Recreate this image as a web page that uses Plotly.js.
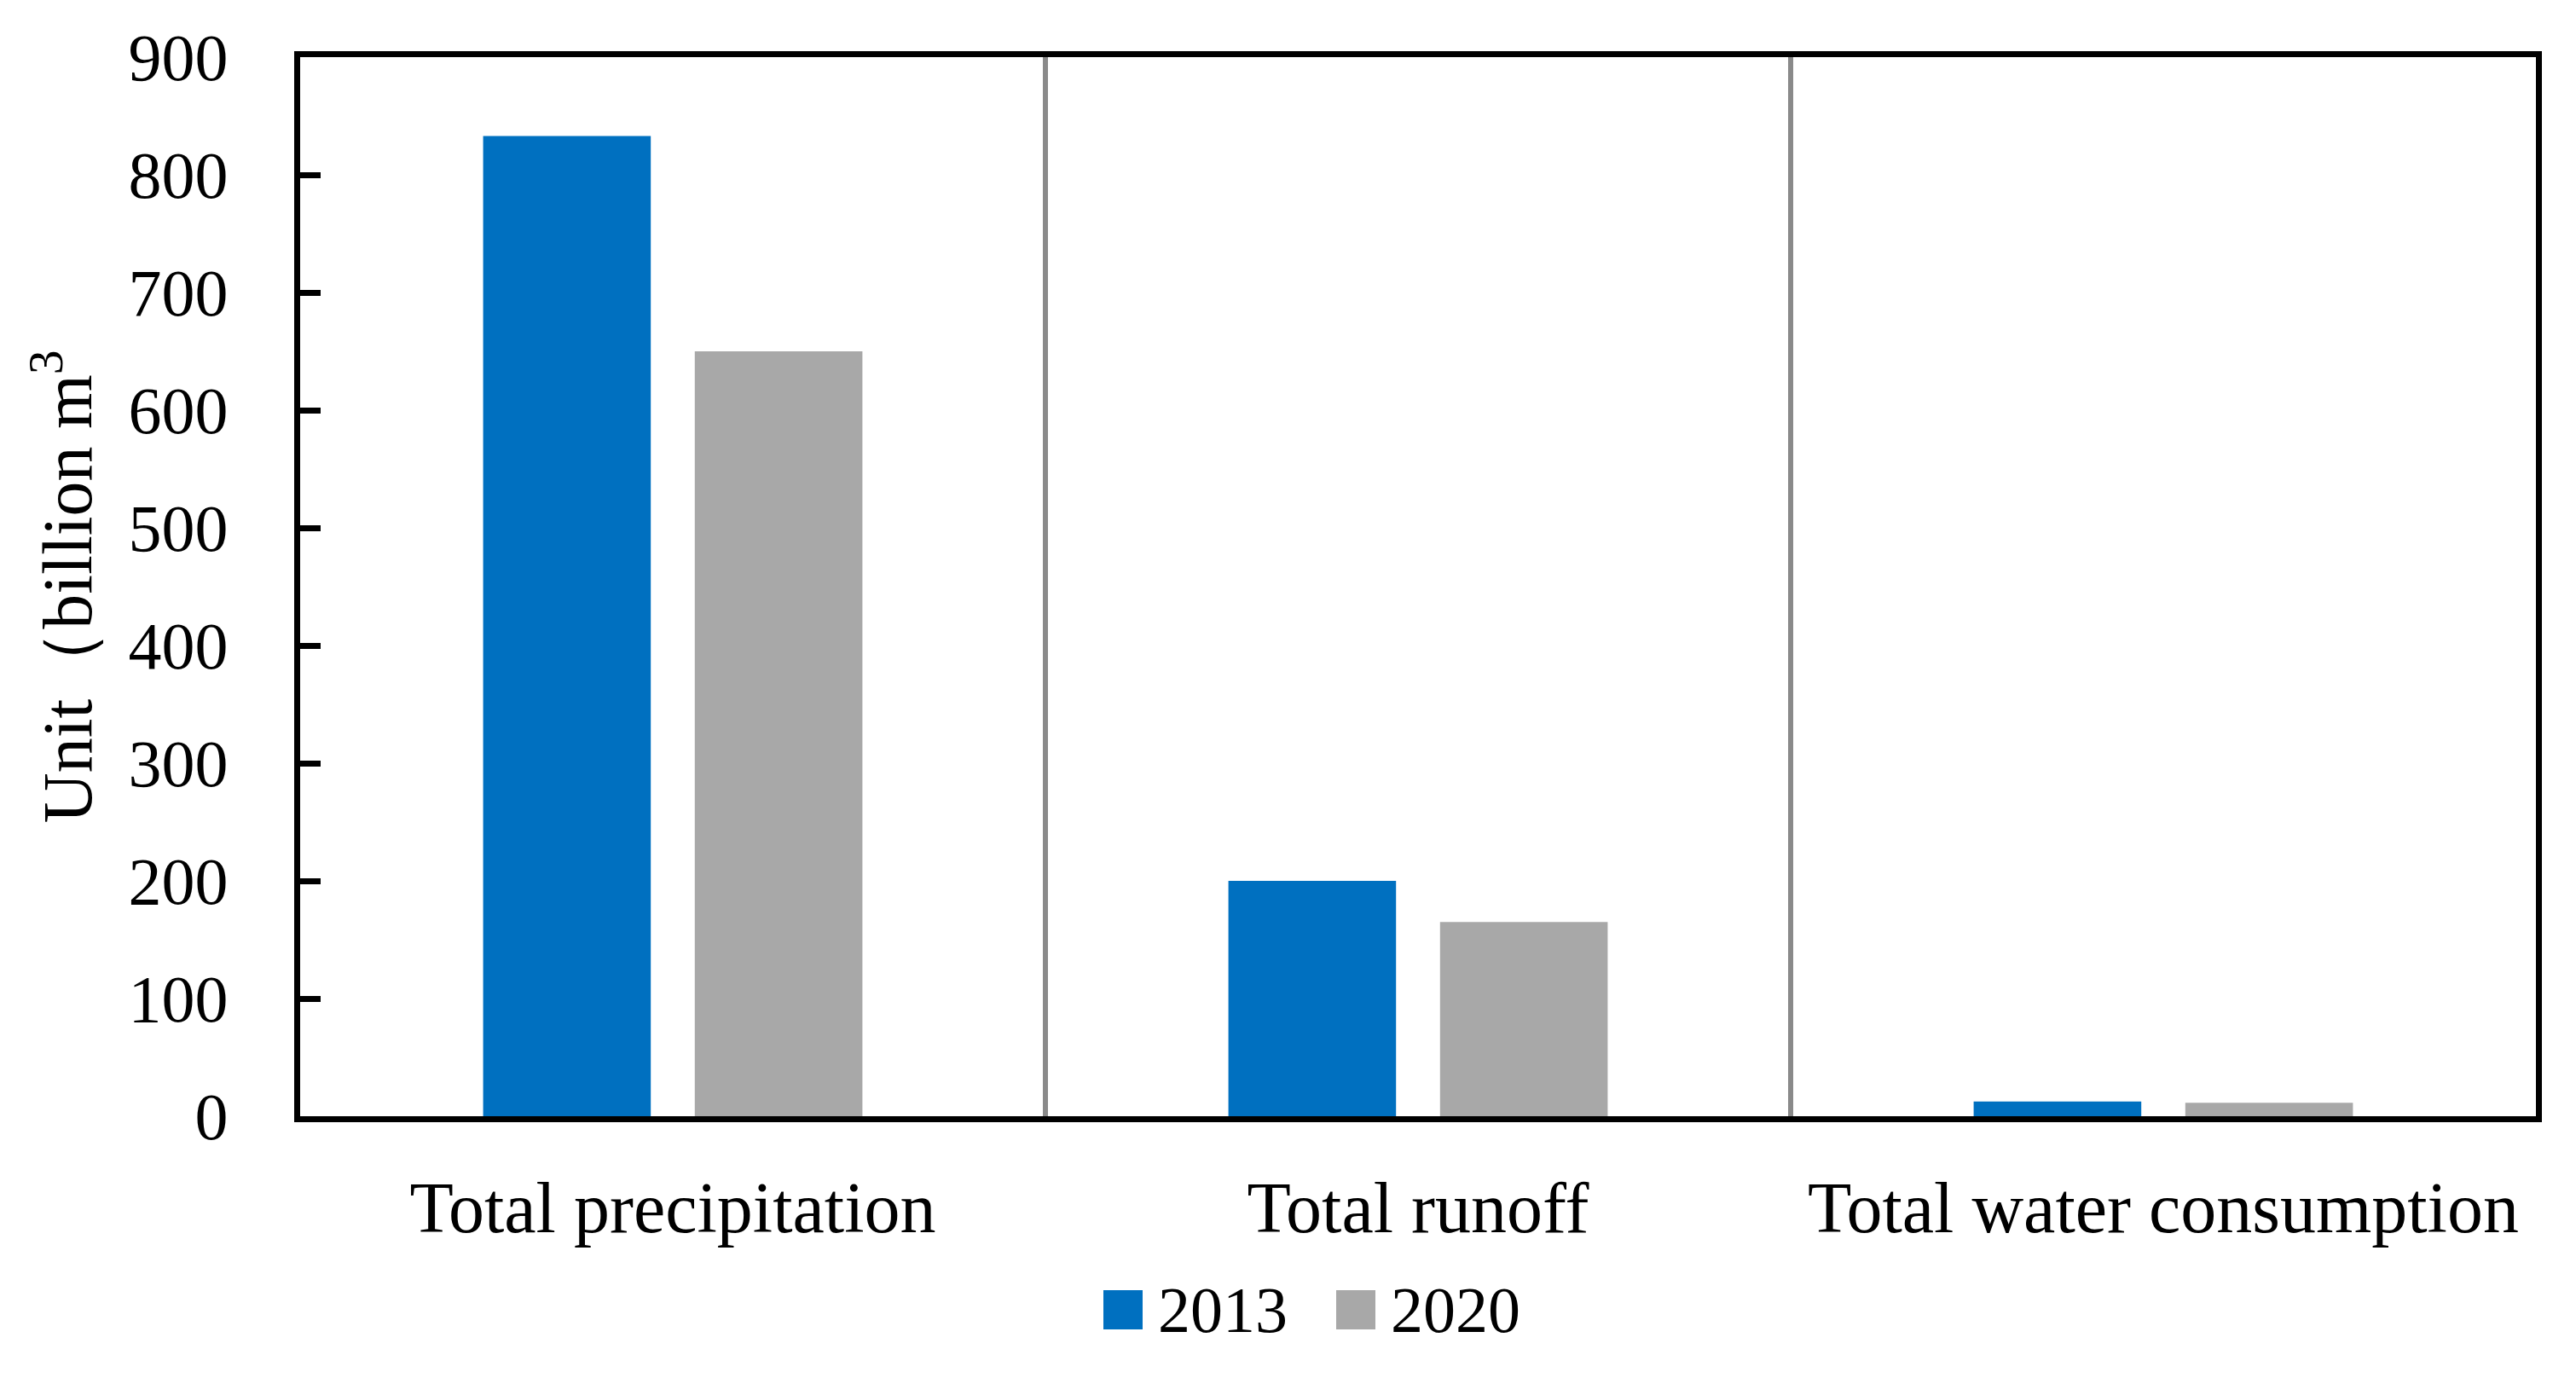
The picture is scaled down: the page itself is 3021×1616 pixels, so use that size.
<!DOCTYPE html>
<html>
<head>
<meta charset="utf-8">
<script src="https://cdn.plot.ly/plotly-3.0.1.min.js"></script>
<style>html,body{margin:0;padding:0;background:#fff;}#chart{width:3021px;height:1616px;}</style>
</head>
<body>
<div id="chart"></div>
<script>
// ---- data ----
const categories = ["Total precipitation", "Total runoff", "Total water consumption"];
const seriesNames = ["2013", "2020"];
const values2013 = [833, 200, 12.5];
const values2020 = [650, 165, 11.5];
const seriesColors = ["#0070C0", "#A8A8A8"];
const yTickVals = [0, 100, 200, 300, 400, 500, 600, 700, 800, 900];

// ---- layout geometry ----
const W = 3021, H = 1616;
const M = {l: 352, r: 47, t: 67, b: 307};
const plotW = W - M.l - M.r, plotH = H - M.t - M.b;
const px2x = p => (p - M.l) / plotW;
const px2y = p => (H - M.b - p) / plotH;

const FONT = "Liberation Serif, Times New Roman, serif";

const traces = [values2013, values2020].map((vals, i) => ({
  type: "bar",
  name: seriesNames[i],
  x: categories,
  y: vals,
  marker: {color: seriesColors[i], line: {width: 0}},
  showlegend: false,
  hoverinfo: "x+y+name"
}));

// manual legend (large square swatches like the original)
const legStartPx = 1294, legStepPx = 273, swatch = 46, legCenterPx = 1536;
const shapes = [], annotations = [];
seriesNames.forEach((nm, i) => {
  const x0 = legStartPx + i * legStepPx;
  shapes.push({
    type: "rect", xref: "paper", yref: "paper",
    x0: px2x(x0), x1: px2x(x0 + swatch),
    y0: px2y(legCenterPx - swatch / 2), y1: px2y(legCenterPx + swatch / 2),
    fillcolor: seriesColors[i], line: {width: 0}
  });
  annotations.push({
    xref: "paper", yref: "paper",
    x: px2x(x0 + swatch + 16), y: px2y(legCenterPx),
    xanchor: "left", yanchor: "middle",
    text: nm, showarrow: false,
    font: {family: FONT, size: 76, color: "#000"}
  });
});

const layout = {
  width: W, height: H,
  margin: M,
  paper_bgcolor: "#fff", plot_bgcolor: "#fff",
  showlegend: false,
  barmode: "group",
  bargap: 0.432,
  bargroupgap: 0.208,
  font: {family: FONT, color: "#000"},
  xaxis: {
    type: "category",
    tickson: "boundaries",
    ticks: "",
    showgrid: true, gridcolor: "#8A8A8A", gridwidth: 6,
    showline: true, linecolor: "#000", linewidth: 7, mirror: true,
    tickfont: {family: FONT, size: 84, color: "#000"},
    ticklabelstandoff: 28,
    zeroline: false
  },
  yaxis: {
    range: [0, 900],
    tickvals: yTickVals,
    ticks: "inside", ticklen: 24, tickwidth: 7, tickcolor: "#000",
    showgrid: false, zeroline: false,
    showline: true, linecolor: "#000", linewidth: 7, mirror: true,
    tickfont: {family: FONT, size: 78, color: "#000"},
    ticklabelstandoff: 62,
    title: {text: "Unit\uFF08billion m<sup>3</sup>\u00A0\u00A0\u00A0", font: {family: FONT, size: 82, color: "#000"}, standoff: 18}
  },
  shapes: shapes,
  annotations: annotations
};

Plotly.newPlot("chart", traces, layout, {displayModeBar: false, responsive: false});
</script>
</body>
</html>
